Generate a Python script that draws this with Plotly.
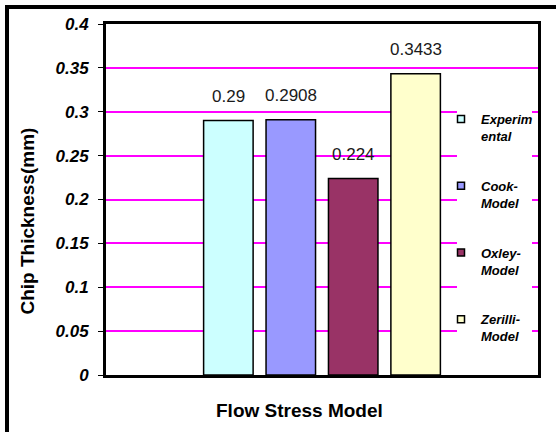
import plotly.graph_objects as go

category = ["Flow Stress Model"]
series_names = ["Experimental", "Cook-Model", "Oxley-Model", "Zerilli-Model"]
legend_labels = ["Experim<br>ental", "Cook-<br>Model", "Oxley-<br>Model", "Zerilli-<br>Model"]
values = [0.29, 0.2908, 0.224, 0.3433]
value_labels = ["0.29", "0.2908", "0.224", "0.3433"]
colors = ["#CCFFFF", "#9999FF", "#993366", "#FFFFCC"]

BARGAP = 0.422
BARGROUPGAP = 0.207
FONT = "Arial, Liberation Sans, sans-serif"

fig = go.Figure()
for name, v, c in zip(series_names, values, colors):
    fig.add_trace(go.Bar(
        x=category, y=[v], name=name, showlegend=False,
        marker=dict(color=c, line=dict(color="black", width=1.5)),
    ))
for name, lab, c in zip(series_names, legend_labels, colors):
    fig.add_trace(go.Scatter(
        x=[None], y=[None], mode="markers", name=lab, legendgroup=name,
        marker=dict(symbol="square", size=7, color=c, line=dict(color="black", width=1.5)),
    ))

n = len(values)
slot = (1 - BARGAP) / n
annotations = []
for i, (v, lab) in enumerate(zip(values, value_labels)):
    annotations.append(dict(
        x=(i - (n - 1) / 2) * slot, y=v, xref="x", yref="y", text=lab,
        showarrow=False, yanchor="middle", xanchor="center", yshift=24,
        font=dict(family=FONT, size=17, color="#1a1a1a"),
    ))
annotations += [
    dict(text="Chip Thickness(mm)", xref="paper", yref="paper",
         x=(27 - 106) / 432, y=(375 - 221.5) / 351, textangle=-90, showarrow=False,
         xanchor="center", yanchor="middle",
         font=dict(size=19, weight="bold", family=FONT)),
    dict(text="Flow Stress Model", xref="paper", yref="paper",
         x=(299 - 106) / 432, y=(375 - 410.7) / 351, showarrow=False,
         xanchor="center", yanchor="middle",
         font=dict(size=19, weight="bold", family=FONT)),
]

fig.update_layout(
    width=556, height=432,
    margin=dict(l=106, r=18, t=24, b=57),
    paper_bgcolor="white", plot_bgcolor="white",
    barmode="group", bargap=BARGAP, bargroupgap=BARGROUPGAP,
    font=dict(family=FONT, color="black"),
    showlegend=True,
    legend=dict(
        x=(441 - 106) / 432, y=(375 - 104) / 351, xanchor="left", yanchor="top",
        bgcolor="rgba(0,0,0,0)", valign="top",
        tracegroupgap=30,
        font=dict(family=FONT, size=13, style="italic", weight="bold"),
    ),
    xaxis=dict(
        showticklabels=False, showgrid=False, ticks="",
        showline=True, linecolor="black", linewidth=3, mirror=True,
    ),
    yaxis=dict(
        range=[0, 0.4], dtick=0.05, tick0=0,
        showgrid=True, gridcolor="#FF00FF", gridwidth=1.5, zeroline=False,
        showline=True, linecolor="black", linewidth=3, mirror=True,
        ticks="outside", ticklen=5, tickcolor="black", tickwidth=1,
        ticklabelstandoff=6,
        tickfont=dict(family=FONT, size=17, style="italic", weight="bold"),
    ),
    shapes=[
        dict(type="rect", xref="paper", yref="paper",
             x0=(457 - 106) / 432, x1=(532 - 106) / 432,
             y0=(375 - 355) / 351, y1=(375 - 100) / 351,
             fillcolor="white", line=dict(width=0), layer="above"),
        dict(type="rect", xref="paper", yref="paper",
             x0=(7 - 106) / 432, x1=1.5, y0=-0.5, y1=(375 - 7) / 351,
             fillcolor="rgba(0,0,0,0)", line=dict(color="black", width=4), layer="above"),
    ],
    annotations=annotations,
)

fig.write_html("out.html")
